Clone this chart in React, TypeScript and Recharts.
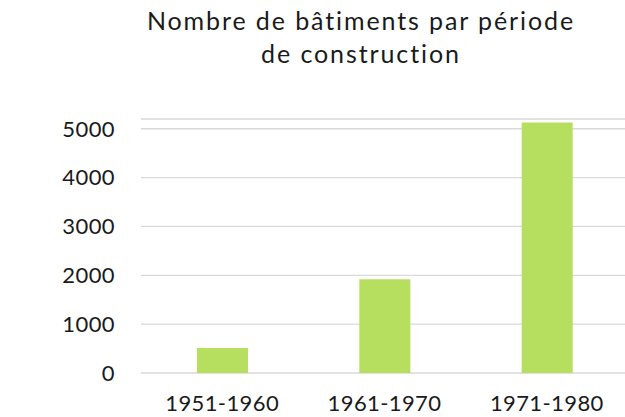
import { Bar, BarChart, CartesianGrid, XAxis, YAxis } from "recharts";

const periods = ["1951-1960", "1961-1970", "1971-1980"];
const buildings = [510, 1920, 5130];
const yTicks = [0, 1000, 2000, 3000, 4000, 5000];

const data = periods.map((p, i) => ({ period: p, total: buildings[i] }));

const FONT = "Lato, 'Open Sans', sans-serif";
const TEXT = "#1a1a1a";

export default function App() {
  return (
    <div
      style={{
        position: "absolute",
        left: 0,
        top: 0,
        width: 625,
        height: 417,
        overflow: "hidden",
        background: "#fff",
        fontFamily: FONT,
      }}
    >
      <div
        style={{
          position: "absolute",
          left: 97,
          top: 4,
          width: 528,
          textAlign: "center",
          fontSize: 25,
          letterSpacing: 1.9,
          lineHeight: "33px",
          color: TEXT,
        }}
      >
        Nombre de bâtiments par période
        <br />
        de construction
      </div>
      <BarChart
        width={640}
        height={417}
        data={data}
        margin={{ top: 119, right: 12, bottom: 0, left: 0 }}
        barSize={51}
      >
        <CartesianGrid horizontal vertical={false} stroke="#d9d9d9" strokeWidth={1.3} />
        <XAxis
          dataKey="period"
          height={44}
          axisLine={false}
          tickLine={false}
          tickSize={0}
          tickMargin={22}
          tick={{ fill: TEXT, fontSize: 22, letterSpacing: 0.4, fontFamily: FONT }}
        />
        <YAxis
          width={141}
          domain={[0, 5200]}
          ticks={yTicks}
          axisLine={false}
          tickLine={false}
          tickSize={0}
          tickMargin={26}
          tick={{ fill: TEXT, fontSize: 22, letterSpacing: 0.4, fontFamily: FONT }}
        />
        <Bar dataKey="total" fill="#b6de5f" isAnimationActive={false} />
      </BarChart>
    </div>
  );
}
